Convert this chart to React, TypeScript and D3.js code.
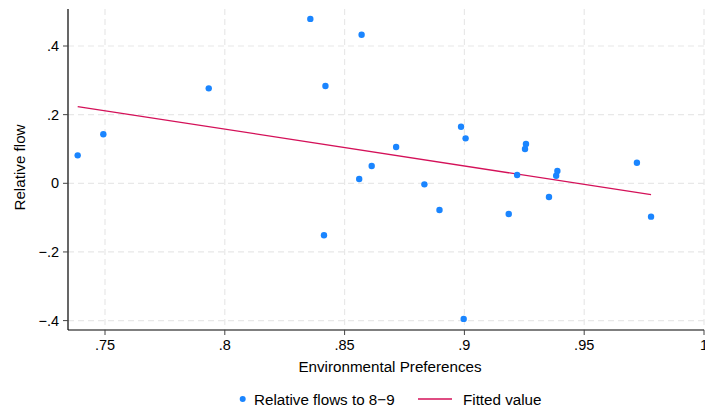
import React from 'react';
import * as d3 from 'd3';

// Environmental preferences (x) and relative flow (y)
const prefs = [
  0.7386, 0.7493, 0.7933, 0.8357, 0.8571, 0.842, 0.8986, 0.9005, 0.8715, 0.8613, 0.8561, 0.8833,
  0.9257, 0.9253, 0.922, 0.9388, 0.9383, 0.9353, 0.972, 0.8414, 0.8896, 0.9185, 0.9779, 0.8997,
];
const flows = [
  0.0815, 0.1427, 0.2766, 0.479, 0.4327, 0.2833, 0.1648, 0.131, 0.1057, 0.0504, 0.0125, -0.003,
  0.1144, 0.0999, 0.0242, 0.0358, 0.0221, -0.0399, 0.06, -0.1514, -0.0777, -0.0894, -0.0972, -0.395,
];

// fitted line end points
const fitX = [0.7386, 0.9779];
const fitY = [0.2235, -0.033];

const xTicks = [0.75, 0.8, 0.85, 0.9, 0.95, 1];
const xTickLabels = ['.75', '.8', '.85', '.9', '.95', '1'];
const yTicks = [-0.4, -0.2, 0, 0.2, 0.4];
const yTickLabels = ['\u2212.4', '\u2212.2', '0', '.2', '.4'];

const width = 705;
const height = 410;
const margin = { top: 9, right: 1, bottom: 80, left: 68 };

const dotColor = '#1a85ff';
const lineColor = '#d41159';
const font = '"Liberation Sans", Arial, Helvetica, sans-serif';

export default function App() {
  const x = d3.scaleLinear().domain([0.75, 1]).range([105, 704]);
  const y = d3.scaleLinear().domain([0, 0.4]).range([183.3, 46]);

  const left = margin.left;
  const right = width - margin.right;
  const top = margin.top;
  const bottom = height - margin.bottom;

  const line = d3.line<number>()
    .x(d => x(d))
    .y((d, i) => y(fitY[i]));

  return (
    <svg
      width={width}
      height={height}
      style={{ position: 'absolute', left: 0, top: 0, background: '#fff' }}
      fontFamily={font}
    >
      {/* grid */}
      <g stroke="#e8e8e8" strokeWidth={1.2} strokeDasharray="6,4">
        {xTicks.map(t => (
          <line key={'gx' + t} x1={x(t)} x2={x(t)} y1={top} y2={bottom} />
        ))}
        {yTicks.map(t => (
          <line key={'gy' + t} x1={left} x2={right} y1={y(t)} y2={y(t)} />
        ))}
      </g>

      {/* axes */}
      <line x1={left} x2={left} y1={top} y2={bottom} stroke="#000" strokeWidth={1.2} />
      <line x1={left} x2={right} y1={bottom} y2={bottom} stroke="#000" strokeWidth={1.2} />

      <g fontSize={14.5} fill="#000">
        {xTicks.map((t, i) => (
          <g key={'tx' + t}>
            <line x1={x(t)} x2={x(t)} y1={bottom} y2={bottom + 5} stroke="#444" />
            <text x={x(t)} y={350} textAnchor="middle">{xTickLabels[i]}</text>
          </g>
        ))}
        {yTicks.map((t, i) => (
          <g key={'ty' + t}>
            <line x1={left - 5} x2={left} y1={y(t)} y2={y(t)} stroke="#444" />
            <text x={59} y={y(t) + 5} textAnchor="end">{yTickLabels[i]}</text>
          </g>
        ))}
      </g>

      {/* axis titles */}
      <text x={(left + right) / 2 + 4} y={372} textAnchor="middle" fontSize={15.2}>
        Environmental Preferences
      </text>
      <text
        transform={`translate(25,${(top + bottom) / 2 - 2}) rotate(-90)`}
        textAnchor="middle"
        fontSize={15.2}
      >
        Relative flow
      </text>

      {/* fitted line */}
      <path d={line(fitX) || ''} fill="none" stroke={lineColor} strokeWidth={1.3} />

      {/* points */}
      {prefs.map((p, i) => (
        <circle key={i} cx={x(p)} cy={y(flows[i])} r={3.2} fill={dotColor} />
      ))}

      {/* legend */}
      <circle cx={242.7} cy={399} r={3} fill={dotColor} />
      <text x={254} y={404.5} fontSize={15.2}>Relative flows to 8{'\u2212'}9</text>
      <line x1={418} x2={452} y1={399} y2={399} stroke={lineColor} strokeWidth={1.3} />
      <text x={463} y={404.5} fontSize={15.2}>Fitted value</text>
    </svg>
  );
}
